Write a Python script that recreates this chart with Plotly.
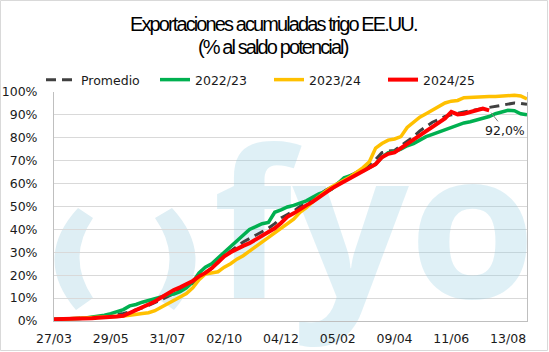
import plotly.graph_objects as go
import pandas as pd

# ---- categories (weekly) ----
WEEKS = pd.date_range("2025-03-27", periods=76, freq="7D")
WEEK_LABELS = [d.strftime("%d/%m") for d in WEEKS]
TICK_STEP = 9

# ---- series (% of potential balance) ----
PROMEDIO = [0.7, 0.8, 0.9, 1.0, 1.1, 1.3, 1.5, 1.7, 2.0, 2.4, 2.8, 3.3, 4.0, 4.8, 5.8, 6.8,
            8.0, 9.3, 10.6, 12.0, 13.5, 15.0, 16.5, 19.0, 21.0, 23.0, 25.5, 28.5, 30.5, 32.5,
            34.5, 36.0, 37.5, 39.0, 40.5, 42.5, 45.0, 46.5, 48.0, 50.0, 51.5, 53.0, 55.0, 57.0,
            58.5, 60.0, 61.8, 63.5, 65.0, 66.5, 68.5, 70.5, 73.5, 74.2, 74.5, 76.5, 78.3, 80.5,
            83.0, 85.0, 86.8, 88.0, 89.3, 90.0, 90.8, 91.3, 91.8, 92.3, 92.9, 93.5, 94.0, 94.5,
            95.0, 95.2, 95.0, 94.6]
S2022 = [0.8, 0.8, 0.9, 1.0, 1.1, 1.3, 1.6, 2.0, 2.5, 3.2, 4.0, 5.0, 6.6, 7.2, 8.2, 9.0,
         10.0, 10.8, 11.3, 11.8, 12.8, 14.5, 17.0, 21.0, 23.5, 25.0, 27.5, 30.0, 33.0, 35.5,
         38.0, 40.0, 41.2, 42.5, 43.0, 47.5, 48.5, 49.8, 50.5, 51.5, 52.5, 54.0, 55.5, 56.5,
         57.5, 60.0, 62.5, 63.5, 64.5, 65.5, 67.0, 68.5, 71.5, 73.5, 74.0, 75.0, 76.5, 77.5,
         79.0, 80.5, 81.5, 82.5, 83.8, 84.8, 85.5, 86.5, 87.0, 87.8, 88.8, 89.3, 90.5, 91.4,
         92.0, 91.8, 90.5, 90.0]
S2023 = [0.5, 0.8, 1.0, 1.1, 1.2, 1.3, 1.4, 1.5, 1.6, 1.8, 2.0, 2.2, 2.5, 3.0, 3.3, 3.6,
         4.5, 6.0, 7.5, 9.0, 10.5, 12.0, 14.5, 18.0, 20.5, 21.0, 21.5, 23.5, 25.0, 27.0,
         28.5, 30.5, 32.5, 34.8, 36.5, 38.5, 40.5, 42.5, 44.5, 47.5, 49.5, 52.0, 54.5, 56.5,
         58.5, 60.0, 61.3, 63.0, 65.0, 67.0, 69.5, 75.5, 77.5, 79.0, 79.5, 80.5, 84.5, 87.0,
         89.0, 90.5, 92.2, 93.7, 95.2, 96.0, 96.3, 97.5, 97.7, 97.9, 97.9, 98.0, 98.0, 98.3,
         98.6, 98.6, 98.3, 97.0]
S2024 = [0.8, 0.8, 0.8, 0.9, 1.0, 1.1, 1.2, 1.4, 1.5, 1.7, 2.0, 2.3, 3.5, 4.8, 5.8, 7.0,
         8.5, 10.3, 12.0, 13.5, 14.7, 16.0, 17.5, 19.5, 21.0, 23.0, 25.5, 28.2, 30.0, 31.5,
         32.8, 34.0, 35.5, 37.0, 38.5, 40.5, 42.8, 45.5, 47.0, 49.0, 50.5, 52.0, 54.0, 56.0,
         57.8, 59.4, 61.0, 62.3, 64.0, 65.5, 67.0, 68.5, 71.5, 73.0, 73.6, 75.5, 77.5, 79.0,
         81.2, 83.0, 84.8, 86.5, 88.5, 91.3, 90.2, 90.5, 91.3, 92.1, 92.8, 92.0]

SERIES_NAMES = ["Promedio", "2022/23", "2023/24", "2024/25"]
TITLE_LINES = ["Exportaciones acumuladas trigo EE.UU.", "(% al saldo potencial)"]

FONT = "DejaVu Sans"
TXT = "#1a1a1a"
WM = "rgba(150,205,225,0.3)"

fig = go.Figure()

# watermark text (drawn first so the data lines sit on top)
fig.add_trace(go.Scatter(x=[50.8], y=[32.5], mode="text", text=["fyo"],
                         textfont=dict(family="Open Sans", size=205, color=WM, weight="bold"),
                         textposition="middle center", hoverinfo="skip", showlegend=False,
                         cliponaxis=False))

def xs(vals):
    return list(range(len(vals)))

fig.add_trace(go.Scatter(x=xs(PROMEDIO), y=PROMEDIO, name=SERIES_NAMES[0], mode="lines",
                         line=dict(color="#404040", width=3, dash="10px,6px")))
fig.add_trace(go.Scatter(x=xs(S2022), y=S2022, name=SERIES_NAMES[1], mode="lines",
                         line=dict(color="#00B050", width=3.5)))
fig.add_trace(go.Scatter(x=xs(S2023), y=S2023, name=SERIES_NAMES[2], mode="lines",
                         line=dict(color="#FFC000", width=3.5)))
fig.add_trace(go.Scatter(x=xs(S2024), y=S2024, name=SERIES_NAMES[3], mode="lines",
                         line=dict(color="#FF0000", width=4)))

# plot area: x 54..527, y 92..321 px
L, R, T, B = 54, 22, 92, 31
W, H = 549, 352
PW, PH = W - L - R, H - T - B

def px(x):
    return (x - L) / PW

def py(y):
    return (H - B - y) / PH

shapes = []
# crescents of the logo watermark
def crescent(outer_top, outer_ctrl, outer_bot, inner_bot, inner_ctrl, inner_top):
    pts = [outer_top, outer_ctrl, outer_bot, inner_bot, inner_ctrl, inner_top]
    p = [(px(a), py(b)) for a, b in pts]
    return ("M {0[0]},{0[1]} Q {1[0]},{1[1]} {2[0]},{2[1]} L {3[0]},{3[1]} "
            "Q {4[0]},{4[1]} {5[0]},{5[1]} Z").format(*p)

shapes.append(dict(type="path", xref="paper", yref="paper", layer="below", line=dict(width=0),
                   fillcolor="#DEEEF4",
                   path=crescent((78, 208), (32, 258), (76, 310), (93, 298), (66, 258), (93, 218))))
shapes.append(dict(type="path", xref="paper", yref="paper", layer="below", line=dict(width=0),
                   fillcolor="#DEEEF4",
                   path=crescent((172, 208), (218, 258), (174, 310), (157, 298), (183, 258), (155, 218))))
# outer border
shapes.append(dict(type="rect", xref="paper", yref="paper", x0=px(0.5), x1=px(547.5),
                   y0=py(350.5), y1=py(0.5), line=dict(color="#D9D9D9", width=1)))

def title_span(t):
    return f'<span style="letter-spacing:-1.9px">{t}</span>'

last_i = len(S2024) - 1
last_v = S2024[-1]
title_x = px(W / 2 - 1)
annotations = [
    dict(xref="paper", yref="paper", x=title_x, y=py(24), text=title_span(TITLE_LINES[0]),
         showarrow=False, font=dict(family="Liberation Sans", size=20, color="#000000"),
         xanchor="center", yanchor="middle"),
    dict(xref="paper", yref="paper", x=title_x, y=py(47), text=title_span(TITLE_LINES[1]),
         showarrow=False, font=dict(family="Liberation Sans", size=20, color="#000000"),
         xanchor="center", yanchor="middle"),
    dict(x=last_i, y=last_v, xref="x", yref="y",
         text=f"{last_v:.1f}".replace(".", ",") + "%",
         showarrow=True, arrowhead=0, arrowwidth=1, arrowcolor="#808080",
         ax=16, ay=20, standoff=3,
         font=dict(family=FONT, size=12.5, color=TXT)),
]

fig.update_layout(
    width=W, height=H,
    margin=dict(l=L, r=R, t=T, b=B, autoexpand=False),
    paper_bgcolor="white", plot_bgcolor="white",
    font=dict(family=FONT, size=12.5, color=TXT),
    shapes=shapes,
    annotations=annotations,
    showlegend=True,
    legend=dict(orientation="h", x=px(41), y=py(80), xanchor="left", yanchor="middle",
                font=dict(family=FONT, size=12.5, color=TXT), bgcolor="rgba(0,0,0,0)",
                entrywidth=69, entrywidthmode="pixels", traceorder="normal"),
    xaxis=dict(range=[0, len(WEEK_LABELS) - 1],
               tickvals=list(range(0, len(WEEK_LABELS), TICK_STEP)),
               ticktext=WEEK_LABELS[::TICK_STEP],
               showgrid=False, zeroline=False, showline=True, linecolor="#BFBFBF", linewidth=1,
               ticks="", ticklabelstandoff=6, automargin=False,
               tickfont=dict(family=FONT, size=12.5, color=TXT)),
    yaxis=dict(range=[0, 100], dtick=10, ticksuffix="%",
               showgrid=True, gridcolor="#D9D9D9", gridwidth=1, zeroline=False,
               showline=True, linecolor="#BFBFBF", linewidth=1, mirror=True,
               ticks="", ticklabelstandoff=13, automargin=False,
               tickfont=dict(family=FONT, size=12.5, color=TXT)),
)

fig.write_html("out.html")
